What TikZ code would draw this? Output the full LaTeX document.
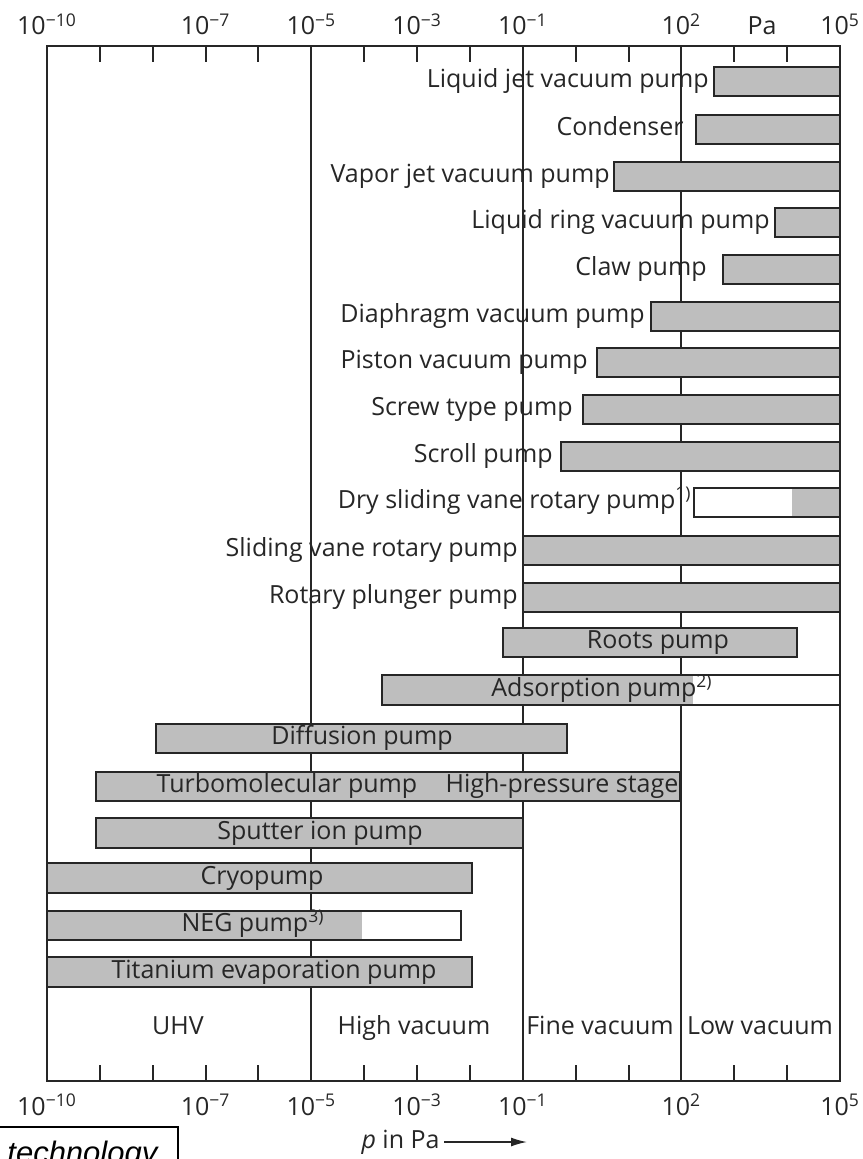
\documentclass[tikz,border=0pt]{standalone}
\usepackage{fontspec}
\setmainfont{Open Sans}
\newfontfamily\capfont{Liberation Sans}
\usetikzlibrary{arrows.meta,positioning}
\definecolor{ink}{HTML}{262626}
\definecolor{barfill}{HTML}{BEBEBE}

\begin{document}
\begin{tikzpicture}[x=0.5pt,y=-0.5pt,
  every node/.style={font=\fontsize{12.5}{14}\selectfont,inner sep=0pt,text=ink},
  axisline/.style={draw=ink,line width=1pt},
  bar/.style={draw=ink,fill=barfill,line width=0.8pt},
  hollow/.style={draw=ink,line width=0.8pt},
  lbl/.style={anchor=east,text height=1.6ex,text depth=.45ex},
  inlbl/.style={text height=1.6ex,text depth=.45ex},
  ax/.style={anchor=base}]
 \useasboundingbox (0,0) rectangle (862,1159);
 \clip (0,0) rectangle (862,1159);
 % frame, decade ticks and the three range limits
 \draw[axisline] (47,46) rectangle (840,1081);
 \foreach \e in {1,...,14}
   {\draw[axisline] ({47+\e*52.87},46) -- ++(0,16);
    \draw[axisline] ({47+\e*52.87},1081) -- ++(0,-16);}
 \foreach \e in {5,9,12}
   {\draw[axisline] ({47+\e*52.87},46) -- ({47+\e*52.87},1081);}
 \foreach \e/\s in {0/−10,3/−7,5/−5,7/−3,9/−1,12/2,15/5}
   {\node[ax] (top\e) at ({47+\e*52.87},35) {10\textsuperscript{\s}};
    \node[ax] (bot\e) at ({47+\e*52.87},1115) {10\textsuperscript{\s}};}
 \node[ax] (pa) at (762,35) {Pa};
 % pumps working up to atmosphere
 \foreach \n/\y/\xa/\xt/\txt in {
   ljet/67/714/709/Liquid jet vacuum pump,
   cond/115/696/684/Condenser,
   vjet/162/614/610/Vapor jet vacuum pump,
   lring/208/775/770/Liquid ring vacuum pump,
   claw/255/723/707/Claw pump,
   diaph/302/651/645/Diaphragm vacuum pump,
   piston/348/597/588/Piston vacuum pump,
   screw/395/583/573/Screw type pump,
   scroll/442/561/553/Scroll pump,
   slide/536/523/518/Sliding vane rotary pump,
   plunger/583/523/518/Rotary plunger pump}
   {\draw[bar] (\xa,\y) rectangle (840,\y+29);
    \node[lbl] (\n) at (\xt,\y+14.5) {\txt};}
 \fill[white] (694,488) rectangle (840,517);
 \fill[barfill] (792,488) rectangle (840,517);
 \draw[hollow] (694,488) rectangle (840,517);
 \node[lbl] (dry) at (692,502.5) {Dry sliding vane rotary pump\textsuperscript{1)}};
 % pumps with the name inside the bar
 \draw[bar] (503,628) rectangle (797,657);
 \node[inlbl] (roots) at (658,642.5) {Roots pump};
 \fill[white] (382,675) rectangle (840,705);
 \fill[barfill] (382,675) rectangle (693,705);
 \draw[hollow] (382,675) rectangle (840,705);
 \node[inlbl] (adsorp) at (602,690) {Adsorption pump\textsuperscript{2)}};
 \draw[bar] (156,724) rectangle (567,753);
 \node[inlbl] (diff) at (362,738.5) {Diffusion pump};
 \draw[bar] (96,772) rectangle (680,801);
 \node[inlbl] (turbo) at (287,786.5) {Turbomolecular pump};
 \node[inlbl] (hpstage) at (562,786.5) {High-pressure stage};
 \draw[bar] (96,818) rectangle (523,848);
 \node[inlbl] (sputter) at (320,833) {Sputter ion pump};
 \draw[bar] (47,863) rectangle (472,893);
 \node[inlbl] (cryo) at (262,878) {Cryopump};
 \fill[white] (47,911) rectangle (461,940);
 \fill[barfill] (47,911) rectangle (362,940);
 \draw[hollow] (47,911) rectangle (461,940);
 \node[inlbl] (neg) at (253,925.5) {NEG pump\textsuperscript{3)}};
 \draw[bar] (47,957) rectangle (472,987);
 \node[inlbl] (titan) at (274,972) {Titanium evaporation pump};
 % vacuum ranges
 \node[inlbl] (uhv) at (178,1028) {UHV};
 \node[inlbl] (highvac) at (414,1028) {High vacuum};
 \node[inlbl] (finevac) at (600,1028) {Fine vacuum};
 \node[inlbl] (lowvac) at (760,1028) {Low vacuum};
 % axis caption
 \node[anchor=east] (pin) at (440,1142) {\textit{p} in Pa};
 \coordinate (pend) at (527,1142);
 \draw[draw=ink,line width=0.75pt,-{Latex[length=8pt,width=4.5pt]}] ([xshift=2pt]pin.east) -- (pend);
 \draw[line width=0.8pt] (-5,1127) rectangle (178,1185);
 \node[anchor=base west,text=black,font=\capfont\itshape\fontsize{15.5}{18}\selectfont] (tech) at (7,1163) {technology};
\end{tikzpicture}
\end{document}
